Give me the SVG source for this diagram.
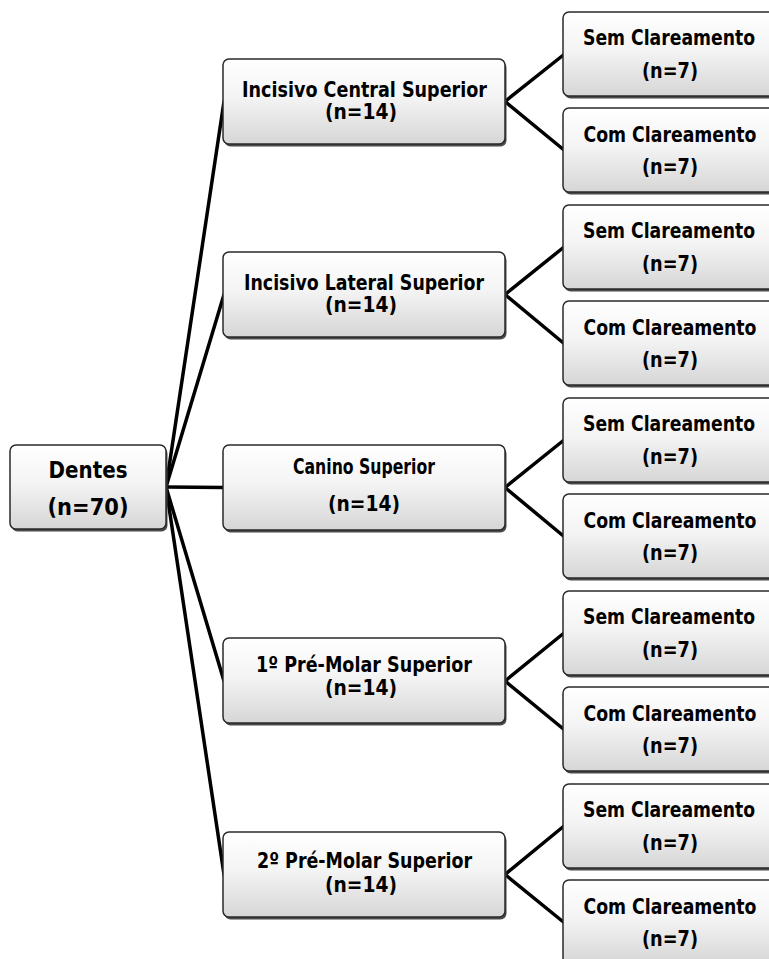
<svg xmlns="http://www.w3.org/2000/svg" width="769" height="959" viewBox="0 0 769 959">
<defs>
<linearGradient id="g" x1="0" y1="0" x2="0" y2="1">
<stop offset="0" stop-color="#ffffff"/>
<stop offset="0.45" stop-color="#f4f4f4"/>
<stop offset="1" stop-color="#d6d6d6"/>
</linearGradient>
</defs>
<style>
.sh{fill:#4a4a4a;}
.bx{fill:url(#g);stroke:#2a2a2a;stroke-width:1.5;}
.t{font-family:"DejaVu Sans","Liberation Sans",sans-serif;font-weight:bold;fill:#000;text-anchor:middle;}
.r{font-size:23px;}
.m{font-size:21px;}
.s{font-size:22px;}
.c{stroke:#000;stroke-width:3.5;fill:none;stroke-linecap:round;stroke-linejoin:round;}
</style>
<rect width="769" height="959" fill="#fff"/>
<g id="connectors">
<line class="c" x1="166" y1="487" x2="224" y2="101.5"/>
<line class="c" x1="166" y1="487" x2="224" y2="294.5"/>
<line class="c" x1="166" y1="487" x2="224" y2="487.5"/>
<line class="c" x1="166" y1="487" x2="224" y2="681"/>
<line class="c" x1="166" y1="487" x2="224" y2="874.5"/>
<polyline class="c" points="564,54.5 505,101.5 564,150"/>
<polyline class="c" points="564,247 505,294.5 564,343.5"/>
<polyline class="c" points="564,440 505,487.5 564,536.5"/>
<polyline class="c" points="564,633 505,681 564,729.5"/>
<polyline class="c" points="564,826 505,874.5 564,922.5"/>
</g>
<g id="root">
<rect class="sh" x="11.5" y="447.5" width="156" height="84" rx="6"/>
<rect class="bx" x="10" y="445" width="156" height="84" rx="6"/>
<text class="t r" x="88" y="478" textLength="79" lengthAdjust="spacingAndGlyphs">Dentes</text>
<text class="t r" x="88" y="515" textLength="81" lengthAdjust="spacingAndGlyphs">(n=70)</text>
</g>
<g id="m1">
<rect class="sh" x="224.5" y="61.5" width="282" height="85" rx="6"/>
<rect class="bx" x="223" y="59" width="282" height="85" rx="6"/>
<text class="t m" x="364.5" y="97" textLength="245" lengthAdjust="spacingAndGlyphs">Incisivo Central Superior</text>
<text class="t m" x="361" y="119" textLength="72" lengthAdjust="spacingAndGlyphs">(n=14)</text>
</g>
<g id="m2">
<rect class="sh" x="224.5" y="254.5" width="282" height="85" rx="6"/>
<rect class="bx" x="223" y="252" width="282" height="85" rx="6"/>
<text class="t m" x="364" y="290" textLength="240" lengthAdjust="spacingAndGlyphs">Incisivo Lateral Superior</text>
<text class="t m" x="361" y="312" textLength="72" lengthAdjust="spacingAndGlyphs">(n=14)</text>
</g>
<g id="m3">
<rect class="sh" x="224.5" y="447.5" width="282" height="85" rx="6"/>
<rect class="bx" x="223" y="445" width="282" height="85" rx="6"/>
<text class="t m" x="364" y="474" textLength="142" lengthAdjust="spacingAndGlyphs">Canino Superior</text>
<text class="t m" x="364" y="511" textLength="72" lengthAdjust="spacingAndGlyphs">(n=14)</text>
</g>
<g id="m4">
<rect class="sh" x="224.5" y="640.5" width="282" height="85" rx="6"/>
<rect class="bx" x="223" y="638" width="282" height="85" rx="6"/>
<text class="t m" x="364" y="672" textLength="216" lengthAdjust="spacingAndGlyphs">1º Pré-Molar Superior</text>
<text class="t m" x="361" y="695" textLength="72" lengthAdjust="spacingAndGlyphs">(n=14)</text>
</g>
<g id="m5">
<rect class="sh" x="224.5" y="834.5" width="282" height="85" rx="6"/>
<rect class="bx" x="223" y="832" width="282" height="85" rx="6"/>
<text class="t m" x="364.5" y="868" textLength="215" lengthAdjust="spacingAndGlyphs">2º Pré-Molar Superior</text>
<text class="t m" x="361" y="892" textLength="72" lengthAdjust="spacingAndGlyphs">(n=14)</text>
</g>
<g id="s1">
<rect class="sh" x="564.5" y="14.5" width="240" height="84" rx="6"/>
<rect class="bx" x="563" y="12" width="240" height="84" rx="6"/>
<text class="t s" x="669" y="45" textLength="172" lengthAdjust="spacingAndGlyphs">Sem Clareamento</text>
<text class="t s" x="670" y="78" textLength="56" lengthAdjust="spacingAndGlyphs">(n=7)</text>
</g>
<g id="c1">
<rect class="sh" x="564.5" y="110.5" width="240" height="84" rx="6"/>
<rect class="bx" x="563" y="108" width="240" height="84" rx="6"/>
<text class="t s" x="670" y="142" textLength="173" lengthAdjust="spacingAndGlyphs">Com Clareamento</text>
<text class="t s" x="670" y="174" textLength="56" lengthAdjust="spacingAndGlyphs">(n=7)</text>
</g>
<g id="s2">
<rect class="sh" x="564.5" y="207.5" width="240" height="84" rx="6"/>
<rect class="bx" x="563" y="205" width="240" height="84" rx="6"/>
<text class="t s" x="669" y="238" textLength="172" lengthAdjust="spacingAndGlyphs">Sem Clareamento</text>
<text class="t s" x="670" y="271" textLength="56" lengthAdjust="spacingAndGlyphs">(n=7)</text>
</g>
<g id="c2">
<rect class="sh" x="564.5" y="303.5" width="240" height="84" rx="6"/>
<rect class="bx" x="563" y="301" width="240" height="84" rx="6"/>
<text class="t s" x="670" y="335" textLength="173" lengthAdjust="spacingAndGlyphs">Com Clareamento</text>
<text class="t s" x="670" y="367" textLength="56" lengthAdjust="spacingAndGlyphs">(n=7)</text>
</g>
<g id="s3">
<rect class="sh" x="564.5" y="400.5" width="240" height="84" rx="6"/>
<rect class="bx" x="563" y="398" width="240" height="84" rx="6"/>
<text class="t s" x="669" y="431" textLength="172" lengthAdjust="spacingAndGlyphs">Sem Clareamento</text>
<text class="t s" x="670" y="464" textLength="56" lengthAdjust="spacingAndGlyphs">(n=7)</text>
</g>
<g id="c3">
<rect class="sh" x="564.5" y="496.5" width="240" height="84" rx="6"/>
<rect class="bx" x="563" y="494" width="240" height="84" rx="6"/>
<text class="t s" x="670" y="528" textLength="173" lengthAdjust="spacingAndGlyphs">Com Clareamento</text>
<text class="t s" x="670" y="560" textLength="56" lengthAdjust="spacingAndGlyphs">(n=7)</text>
</g>
<g id="s4">
<rect class="sh" x="564.5" y="593.5" width="240" height="84" rx="6"/>
<rect class="bx" x="563" y="591" width="240" height="84" rx="6"/>
<text class="t s" x="669" y="624" textLength="172" lengthAdjust="spacingAndGlyphs">Sem Clareamento</text>
<text class="t s" x="670" y="657" textLength="56" lengthAdjust="spacingAndGlyphs">(n=7)</text>
</g>
<g id="c4">
<rect class="sh" x="564.5" y="689.5" width="240" height="84" rx="6"/>
<rect class="bx" x="563" y="687" width="240" height="84" rx="6"/>
<text class="t s" x="670" y="721" textLength="173" lengthAdjust="spacingAndGlyphs">Com Clareamento</text>
<text class="t s" x="670" y="753" textLength="56" lengthAdjust="spacingAndGlyphs">(n=7)</text>
</g>
<g id="s5">
<rect class="sh" x="564.5" y="786.5" width="240" height="84" rx="6"/>
<rect class="bx" x="563" y="784" width="240" height="84" rx="6"/>
<text class="t s" x="669" y="817" textLength="172" lengthAdjust="spacingAndGlyphs">Sem Clareamento</text>
<text class="t s" x="670" y="850" textLength="56" lengthAdjust="spacingAndGlyphs">(n=7)</text>
</g>
<g id="c5">
<rect class="sh" x="564.5" y="882.5" width="240" height="84" rx="6"/>
<rect class="bx" x="563" y="880" width="240" height="84" rx="6"/>
<text class="t s" x="670" y="914" textLength="173" lengthAdjust="spacingAndGlyphs">Com Clareamento</text>
<text class="t s" x="670" y="946" textLength="56" lengthAdjust="spacingAndGlyphs">(n=7)</text>
</g>
</svg>
